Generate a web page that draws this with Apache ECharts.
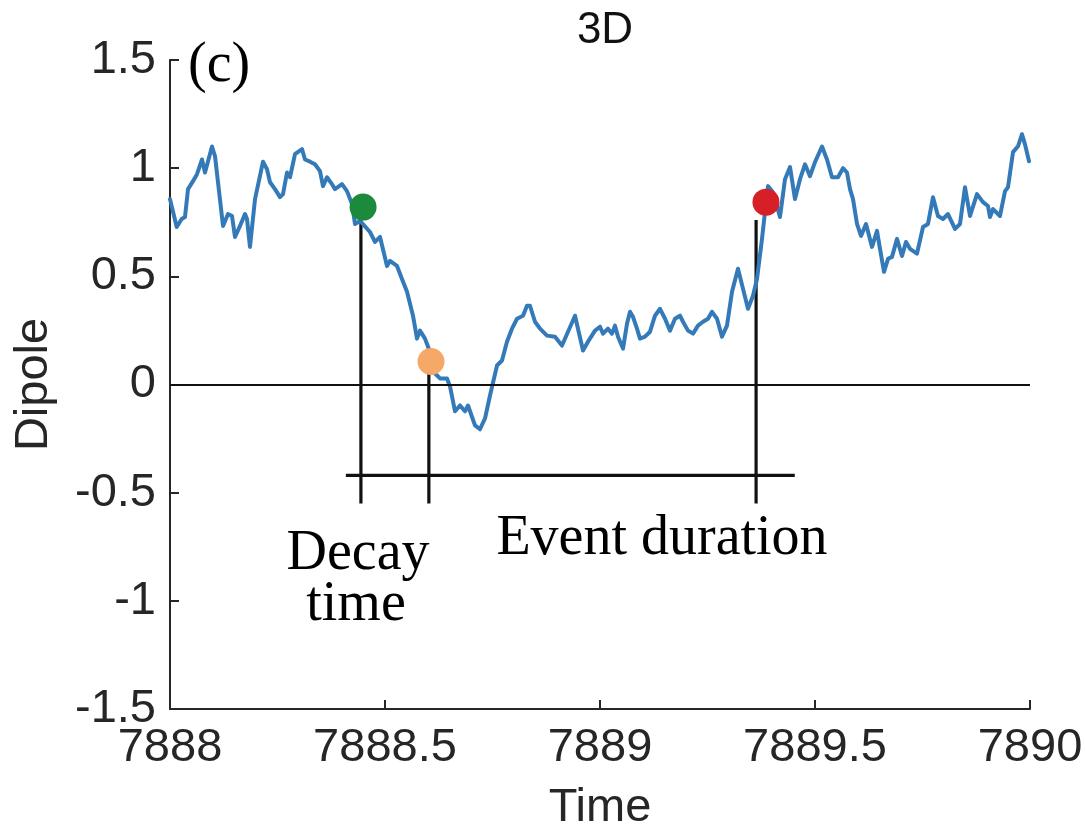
<!DOCTYPE html>
<html>
<head>
<meta charset="utf-8">
<script src="https://cdn.jsdelivr.net/npm/echarts@6/dist/echarts.min.js"></script>
<style>
html,body{margin:0;padding:0;background:#fff;}
#chart{width:1085px;height:832px;}
</style>
</head>
<body>
<div id="chart"></div>
<script>
// ---- data ----
const timeVals = [7888.0000,7888.0156,7888.0272,7888.0349,7888.0419,7888.0535,7888.0628,7888.0744,7888.0814,7888.0977,
7888.1047,7888.1233,7888.1349,7888.1442,7888.1512,7888.1628,7888.1744,7888.1791,7888.1860,7888.1977,
7888.2163,7888.2256,7888.2326,7888.2442,7888.2558,7888.2628,7888.2721,7888.2791,7888.2907,7888.3070,
7888.3140,7888.3256,7888.3372,7888.3488,7888.3558,7888.3651,7888.3767,7888.3837,7888.4000,7888.4116,
7888.4233,7888.4302,7888.4419,7888.4651,7888.4767,7888.4884,7888.5047,7888.5116,7888.5279,7888.5395,
7888.5512,7888.5651,7888.5744,7888.5814,7888.5930,7888.6047,7888.6116,7888.6279,7888.6442,7888.6512,
7888.6628,7888.6744,7888.6860,7888.6930,7888.7093,7888.7209,7888.7326,7888.7442,7888.7605,7888.7721,
7888.7837,7888.7953,7888.8070,7888.8209,7888.8302,7888.8372,7888.8488,7888.8605,7888.8767,7888.8953,
7888.9116,7888.9256,7888.9419,7888.9488,7888.9605,7888.9721,7888.9884,7889.0000,7889.0070,7889.0186,
7889.0279,7889.0349,7889.0419,7889.0535,7889.0628,7889.0698,7889.0767,7889.0860,7889.0930,7889.1047,
7889.1163,7889.1279,7889.1395,7889.1512,7889.1628,7889.1744,7889.1860,7889.1930,7889.2047,7889.2163,
7889.2279,7889.2395,7889.2512,7889.2605,7889.2721,7889.2837,7889.2953,7889.3070,7889.3209,7889.3326,
7889.3442,7889.3558,7889.3651,7889.3767,7889.3837,7889.3907,7889.4023,7889.4186,7889.4302,7889.4419,
7889.4535,7889.4651,7889.4767,7889.4884,7889.5000,7889.5163,7889.5279,7889.5395,7889.5535,7889.5651,
7889.5744,7889.5814,7889.5884,7889.5977,7889.6070,7889.6186,7889.6326,7889.6442,7889.6512,7889.6605,
7889.6698,7889.6791,7889.6907,7889.7023,7889.7116,7889.7209,7889.7372,7889.7512,7889.7628,7889.7744,
7889.7860,7889.7977,7889.8093,7889.8256,7889.8372,7889.8488,7889.8605,7889.8767,7889.8907,7889.9023,
7889.9070,7889.9140,7889.9302,7889.9419,7889.9488,7889.9605,7889.9721,7889.9814,7889.9884,7889.9977];
const dipoleVals = [0.857,0.728,0.765,0.774,0.903,0.940,0.972,1.040,0.980,1.100,
1.055,0.733,0.788,0.779,0.682,0.733,0.788,0.765,0.636,0.857,
1.030,0.995,0.935,0.903,0.866,0.880,0.980,0.958,1.065,1.088,
1.040,1.030,1.018,0.986,0.917,0.958,0.926,0.903,0.926,0.894,
0.834,0.742,0.756,0.705,0.659,0.682,0.548,0.571,0.548,0.488,
0.429,0.318,0.212,0.249,0.212,0.150,0.060,0.028,0.028,-0.009,
-0.124,-0.097,-0.124,-0.097,-0.189,-0.207,-0.157,-0.051,0.088,0.111,
0.198,0.258,0.304,0.318,0.364,0.364,0.290,0.258,0.226,0.221,
0.180,0.244,0.318,0.258,0.157,0.198,0.249,0.267,0.235,0.258,
0.235,0.272,0.221,0.166,0.281,0.336,0.313,0.258,0.212,0.221,
0.244,0.318,0.350,0.304,0.249,0.304,0.318,0.290,0.249,0.235,
0.272,0.290,0.304,0.336,0.304,0.221,0.272,0.429,0.535,0.442,
0.350,0.410,0.488,0.673,0.797,0.917,0.889,0.774,0.949,1.005,
0.857,0.949,1.018,0.963,1.028,1.100,1.040,0.958,0.958,1.000,
0.980,0.903,0.857,0.742,0.687,0.742,0.636,0.710,0.627,0.521,
0.581,0.590,0.673,0.594,0.659,0.627,0.605,0.728,0.742,0.866,
0.779,0.765,0.788,0.719,0.742,0.912,0.779,0.880,0.843,0.825,
0.774,0.811,0.779,0.894,0.912,1.074,1.101,1.157,1.110,1.032];

const xTicks = [7888, 7888.5, 7889, 7889.5, 7890];
const xTickLabels = ['7888', '7888.5', '7889', '7889.5', '7890'];
const yTicks = [-1.5, -1, -0.5, 0, 0.5, 1, 1.5];
const yTickLabels = ['-1.5', '-1', '-0.5', '0', '0.5', '1', '1.5'];

// event markers (start, decay, end)
const markerTimes = [7888.449, 7888.607, 7889.386];
const markerVals = [0.82, 0.106, 0.843];
const markerColors = ['#1b8a3c', '#f6a868', '#d71f27'];

// vertical event lines
const eventLineTimes = [7888.444, 7888.602, 7889.363];
const eventLineTops = [0.77, 0.06, 0.76];
const eventLineBottom = -0.55;

// horizontal bracket
const bracketTimes = [7888.409, 7889.453];
const bracketLevel = -0.42;

// ---- chart ----
const chart = echarts.init(document.getElementById('chart'));
const lineData = timeVals.map((t, i) => [t, dipoleVals[i]]);
const black = '#111';
const textCol = '#262626';

const series = [
  {
    type: 'line', data: lineData, showSymbol: false, symbol: 'none',
    lineStyle: { color: '#3479b8', width: 4, join: 'round', cap: 'round' }, z: 3,
    markLine: {
      silent: true, symbol: 'none', label: { show: false },
      lineStyle: { color: black, width: 2, type: 'solid' },
      data: [{ yAxis: 0 }]
    }
  },
  {
    type: 'line', data: bracketTimes.map(t => [t, bracketLevel]),
    showSymbol: false, symbol: 'none',
    lineStyle: { color: black, width: 3.2 }, z: 2
  }
];
eventLineTimes.forEach((t, i) => {
  series.push({
    type: 'line', data: [[t, eventLineTops[i]], [t, eventLineBottom]],
    showSymbol: false, symbol: 'none',
    lineStyle: { color: black, width: 3.2 }, z: 2
  });
});
series.push({
  type: 'scatter', symbolSize: 27, z: 5,
  data: markerTimes.map((t, i) => ({ value: [t, markerVals[i]], itemStyle: { color: markerColors[i], opacity: 1 } }))
});

chart.setOption({
  animation: false,
  backgroundColor: '#fff',
  title: {
    text: '3D', left: 600, top: 4, textAlign: 'center',
    textStyle: { fontFamily: 'Liberation Sans', fontWeight: 'normal', fontSize: 44, color: '#111' }
  },
  grid: { left: 170, right: 55, top: 60, bottom: 123, containLabel: false, outerBoundsMode: 'none' },
  xAxis: {
    type: 'value', min: 7888, max: 7890, interval: 0.5,
    name: 'Time', nameLocation: 'middle', nameGap: 76,
    nameTextStyle: { fontFamily: 'Liberation Sans', fontSize: 47, color: textCol },
    axisLine: { show: true, onZero: false, lineStyle: { color: textCol, width: 2 } },
    axisTick: { show: true, inside: true, length: 9, lineStyle: { color: textCol, width: 2 } },
    splitLine: { show: false },
    axisLabel: {
      margin: 16, fontFamily: 'Liberation Sans', fontSize: 47, color: textCol,
      formatter: v => { const k = xTicks.findIndex(x => Math.abs(x - v) < 1e-6); return k >= 0 ? xTickLabels[k] : ''; }
    }
  },
  yAxis: {
    type: 'value', min: -1.5, max: 1.5, interval: 0.5,
    name: 'Dipole', nameLocation: 'middle', nameGap: 112,
    nameTextStyle: { fontFamily: 'Liberation Sans', fontSize: 47, color: textCol },
    axisLine: { show: true, onZero: false, lineStyle: { color: textCol, width: 2 } },
    axisTick: { show: true, inside: true, length: 9, lineStyle: { color: textCol, width: 2 } },
    splitLine: { show: false },
    axisLabel: {
      margin: 14, fontFamily: 'Liberation Sans', fontSize: 47, color: textCol,
      formatter: v => { const k = yTicks.findIndex(y => Math.abs(y - v) < 1e-6); return k >= 0 ? yTickLabels[k] : ''; }
    }
  },
  graphic: [
    { type: 'text', left: 188, top: 38, style: { text: '(c)', font: '56px "Liberation Serif"', fill: '#000' } },
    { type: 'text', x: 662, y: 539, style: { text: 'Event duration', font: '56px "Liberation Serif"', fill: '#000', textAlign: 'center', textVerticalAlign: 'middle' } },
    { type: 'text', x: 358, y: 554, style: { text: 'Decay', font: '56px "Liberation Serif"', fill: '#000', textAlign: 'center', textVerticalAlign: 'middle' } },
    { type: 'text', x: 356, y: 605, style: { text: 'time', font: '56px "Liberation Serif"', fill: '#000', textAlign: 'center', textVerticalAlign: 'middle' } }
  ],
  series: series
});
</script>
</body>
</html>
